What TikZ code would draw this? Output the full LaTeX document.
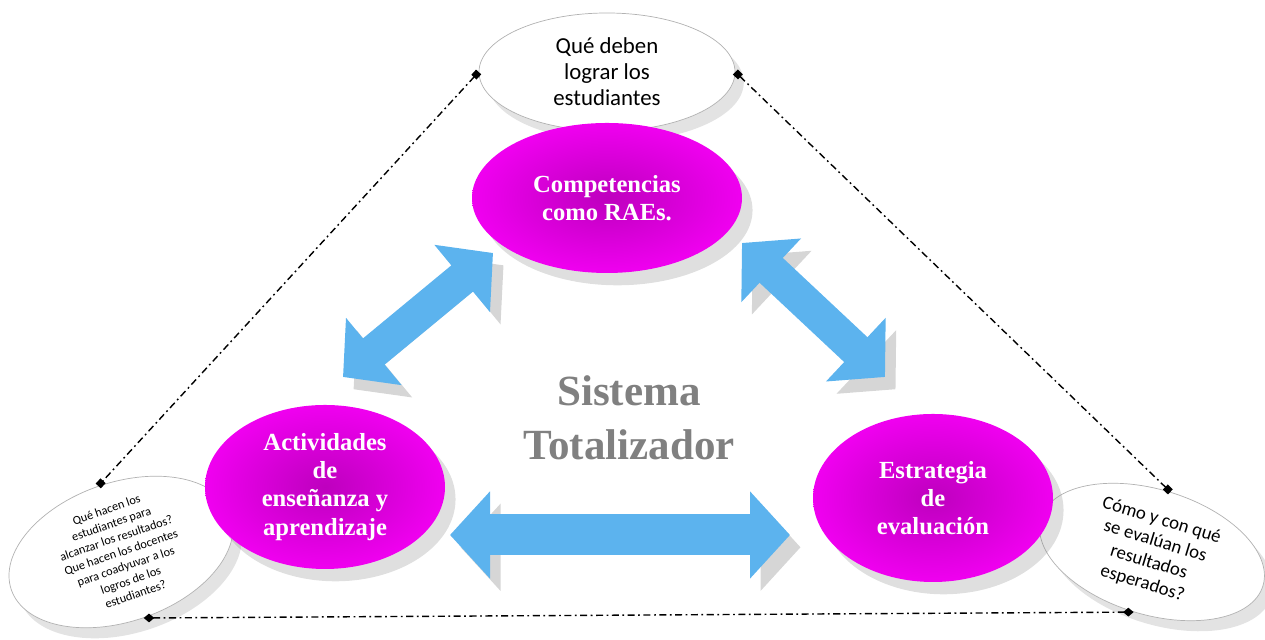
\documentclass[tikz,border=0pt]{standalone}
\usepackage{fontspec}
\setmainfont{Carlito}
\newfontfamily\headfont{Liberation Serif}
\usetikzlibrary{arrows.meta,shapes.geometric,shadows}

\definecolor{rosa}{HTML}{F000F0}
\definecolor{rosadark}{HTML}{BE00BE}
\definecolor{celeste}{HTML}{5CB3EE}

\begin{document}
\begin{tikzpicture}[
	thick,
	ask/.style={
		draw=black!30, thin, ellipse, fill=white,
		drop shadow={shadow xshift=5pt, shadow yshift=-6pt, opacity=0.22},
		align=center, inner sep=0pt,
		font=\fontsize{13}{14.8}\selectfont
	},
	core/.style={
		ellipse, inner color=rosadark, outer color=rosa,
		drop shadow={shadow xshift=6pt, shadow yshift=-7pt, opacity=0.25},
		align=center, text=white, inner sep=0pt,
		font=\headfont\bfseries\fontsize{14}{16}\selectfont
	},
	fat/.style={
		draw=celeste, line width=0.68cm,
		{Triangle[length=0.8cm,width=1.7cm]}-{Triangle[length=0.8cm,width=1.7cm]},
		preaction={draw=black!16, transform canvas={xshift=6pt,yshift=-7pt}}
	},
	link/.style={
		line width=0.8pt,
		dash pattern=on 4pt off 2pt on 1pt off 2pt
	}
	]
	
	\useasboundingbox (0,0) rectangle (25.3,12.8);
	
	\node[ask, minimum width=5.12cm, minimum height=2.36cm] (goal) at (12.14,11.36) {Qué deben\\lograr los\\estudiantes};
	\node[ask, rotate=19, minimum width=4.64cm, minimum height=2.4cm,
		font=\fontsize{7}{8.5}\selectfont] (qact) at (2.42,1.76) {Qué hacen los\\estudiantes para\\alcanzar los resultados?\\Que hacen los docentes\\para coadyuvar a los\\logros de los\\estudiantes?};
	\node[ask, rotate=-17, minimum width=4.64cm, minimum height=2.5cm,
		font=\fontsize{10.7}{12.5}\selectfont] (qeval) at (23.04,1.76) {Cómo y con qué\\se evalúan los\\resultados\\esperados?};
	
	\node[core, minimum width=5.4cm, minimum height=3cm] (comp) at (12.14,8.84) {Competencias\\como RAEs.};
	\node[core, minimum width=4.8cm, minimum height=3.28cm] (act) at (6.5,3.06) {Actividades\\de\\enseñanza y\\aprendizaje};
	\node[core, minimum width=4.8cm, minimum height=3.36cm] (est) at (18.66,2.84) {Estrategia\\de\\evaluación};
	
	\node[align=center, text=black!50, font=\headfont\bfseries\fontsize{24.5}{31}\selectfont] (sys) at (12.58,4.44) {Sistema\\Totalizador};
	
	\draw[fat] ([shift={(-2.28,-1.10)}]comp.center) -- ([shift={(0.36,2.2)}]act.center);
	\draw[fat] ([shift={(2.7,-0.9)}]comp.center) -- ([shift={(-0.96,2.42)}]est.center);
	\draw[fat, line width=0.82cm] ([shift={(2.5,-0.96)}]act.center) -- ([shift={(-2.86,-0.74)}]est.center);
	
	\draw[link, {Square[length=4pt,width=4pt]}-{Square[length=4pt,width=4pt]}] (goal.west) -- (qact.north);
	\draw[link, {Square[length=4pt,width=4pt]}-{Square[length=4pt,width=4pt]}] (goal.east) -- (qeval.north);
	\draw[link, {Diamond[length=6pt,width=5pt]}-{Diamond[length=6pt,width=5pt]}] (qact.south) -- (qeval.south);
	
\end{tikzpicture}
\end{document}
